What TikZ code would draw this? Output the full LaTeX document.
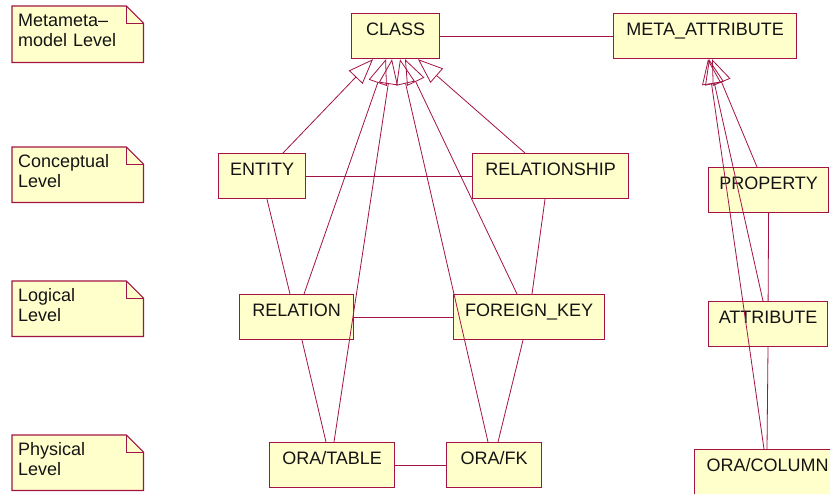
\documentclass[tikz,border=0pt]{standalone}
\usepackage{fontspec}
\setmainfont{Liberation Sans}
\usetikzlibrary{calc,arrows.meta,backgrounds}
\definecolor{rosered}{RGB}{163,20,68}
\definecolor{roseyellow}{RGB}{255,255,204}
\definecolor{rosetext}{RGB}{20,20,20}
\begin{document}
\begin{tikzpicture}[x=1pt,y=-1pt,
  cls/.style={draw=rosered, fill=roseyellow, line width=1.2pt, inner sep=0pt,
    anchor=north west, minimum width=#1, text height=22pt, text depth=23pt,
    font=\fontsize{18}{20}\selectfont, text=rosetext},
  note/.style={anchor=north west, inner xsep=6pt, inner ysep=0pt, text width=119pt,
    align=left, text height=20pt, text depth=#1, font=\fontsize{18}{20}\selectfont, text=rosetext},
  noteline/.style={draw=rosered, fill=roseyellow, line width=1.2pt, line join=miter},
  foldline/.style={draw=rosered, line width=0.6pt},
  gen/.style={draw=rosered, line width=0.8pt, -{Triangle[open, length=25pt, width=19pt]}},
  assoc/.style={draw=rosered, line width=0.8pt}]
\clip (0,0) rectangle (830,493);

% level notes
\node[note=36pt] (n1) at (12,6) {Metameta–\\model Level};
\node[note=35pt] (n2) at (12,147) {Conceptual\\Level};
\node[note=35pt] (n3) at (12,281) {Logical\\Level};
\node[note=35pt] (n4) at (12,435) {Physical\\Level};
\begin{scope}[on background layer]
\fill[white] (0,0) rectangle (830,493);
\foreach \n in {n1,n2,n3,n4}{
  \draw[noteline] (\n.north west) -- ($(\n.north east)+(-17,0)$) -- ($(\n.north east)+(0,17)$)
     -- (\n.south east) -- (\n.south west) -- cycle;
  \draw[foldline] ($(\n.north east)+(-17,0)$) |- ($(\n.north east)+(0,17)$);
}
\end{scope}

% classes
\node[cls=88pt]  (class)  at (351,13)  {CLASS};
\node[cls=183pt] (meta)   at (613,13)  {META\_ATTRIBUTE};
\node[cls=87pt]  (entity) at (218,153) {ENTITY};
\node[cls=156pt] (relship) at (472,153) {RELATIONSHIP};
\node[cls=120pt] (prop)   at (708,167) {PROPERTY};
\node[cls=114pt] (rel)    at (239,294) {RELATION};
\node[cls=151pt] (fk)     at (453,294) {FOREIGN\_KEY};
\node[cls=119pt] (attr)   at (708,301) {ATTRIBUTE};
\node[cls=125pt] (otable) at (269,442) {ORA/TABLE};
\node[cls=95pt]  (ofk)    at (446,442) {ORA/FK};
\node[cls=146pt] (ocol)   at (694,449) {ORA/COLUMN};

% associations
\draw[assoc] (class.east) -- (meta.west);
\draw[assoc] (entity.east) -- (relship.west);
\draw[assoc] (rel.east) -- (fk.west);
\draw[assoc] (otable.east) -- (ofk.west);
\draw[assoc] ($(entity.south west)+(49,0)$) -- ($(rel.north west)+(51,0)$);
\draw[assoc] ($(rel.south west)+(63,0)$) -- ($(otable.north west)+(57,0)$);
\draw[assoc] ($(relship.south west)+(73,0)$) -- ($(fk.north west)+(79,0)$);
\draw[assoc] ($(fk.south west)+(70,0)$) -- ($(ofk.north west)+(52,0)$);
\draw[assoc] (prop.south) -- (attr.north);
\draw[assoc] ($(attr.south west)+(60,0)$) -- ($(ocol.north west)+(73,0)$);

% generalizations
\draw[gen] ($(entity.north west)+(65,0)$) -- ($(class.south west)+(22,0)$);
\draw[gen] ($(rel.north west)+(65,0)$) -- ($(class.south west)+(35,0)$);
\draw[gen] ($(otable.north west)+(65,0)$) -- ($(class.south west)+(41,0)$);
\draw[gen] ($(ofk.north west)+(42,0)$) -- ($(class.south west)+(49,0)$);
\draw[gen] ($(fk.north west)+(64,0)$) -- ($(class.south west)+(54,0)$);
\draw[gen] ($(relship.north west)+(53,0)$) -- ($(class.south west)+(67,0)$);
\draw[gen] ($(prop.north west)+(49,0)$) -- ($(meta.south west)+(99,0)$);
\draw[gen] ($(attr.north west)+(55,0)$) -- ($(meta.south west)+(96,0)$);
\draw[gen] ($(ocol.north west)+(70,0)$) -- ($(meta.south west)+(95,0)$);
\end{tikzpicture}
\end{document}
